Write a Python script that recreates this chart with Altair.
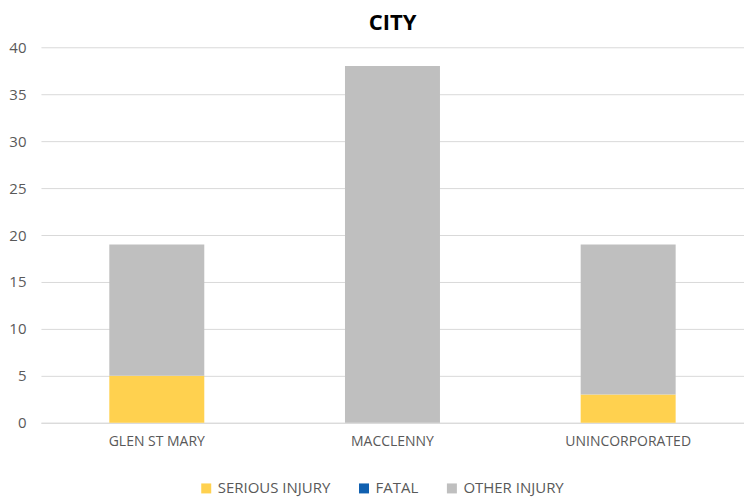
import altair as alt
import pandas as pd

cities = ["GLEN ST MARY", "MACCLENNY", "UNINCORPORATED"]
series = ["SERIOUS INJURY", "FATAL", "OTHER INJURY"]
serious = [5, 0, 3]
fatal = [0, 0, 0]
other = [14, 38, 16]
colors = ["#FFD14F", "#1060B0", "#BFBFBF"]

rows = []
for i, c in enumerate(cities):
    for j, (s, vals) in enumerate(zip(series, [serious, fatal, other])):
        rows.append({"city": c, "series": s, "value": vals[i], "order": j})
df = pd.DataFrame(rows)

FONT = "Open Sans"

chart = alt.Chart(df).mark_bar().encode(
    x=alt.X("city:N", sort=cities, title=None,
            scale=alt.Scale(paddingInner=0.597, paddingOuter=0.29),
            axis=alt.Axis(labelAngle=0, labelFontSize=14, labelColor="#595959",
                          labelFont=FONT, labelPadding=12, ticks=False,
                          domainColor="#D9D9D9", grid=False)),
    y=alt.Y("value:Q", stack="zero", title=None,
            scale=alt.Scale(domain=[0, 40]),
            axis=alt.Axis(values=list(range(0, 41, 5)), labelFontSize=15,
                          labelColor="#595959", labelFont=FONT, labelPadding=15,
                          ticks=False, domain=False, gridColor="#D9D9D9")),
    color=alt.Color("series:N", sort=series,
                    scale=alt.Scale(domain=series, range=colors),
                    legend=alt.Legend(title=None, orient="none", direction="horizontal",
                                      legendX=158, legendY=434,
                                      symbolType="square", symbolSize=100,
                                      symbolStrokeWidth=0, labelOffset=4,
                                      labelFontSize=15, labelColor="#595959",
                                      labelFont=FONT, columnPadding=26)),
    order=alt.Order("order:Q"),
).properties(
    width=704, height=376,
    padding={"left": 0, "top": 4, "right": 0, "bottom": 0},
    title=alt.TitleParams("CITY", fontSize=22, font=FONT, fontWeight="bold",
                          color="#000000", offset=5),
).configure_view(stroke=None)

chart.save("out.html", embed_options={"renderer": "svg", "actions": False})
